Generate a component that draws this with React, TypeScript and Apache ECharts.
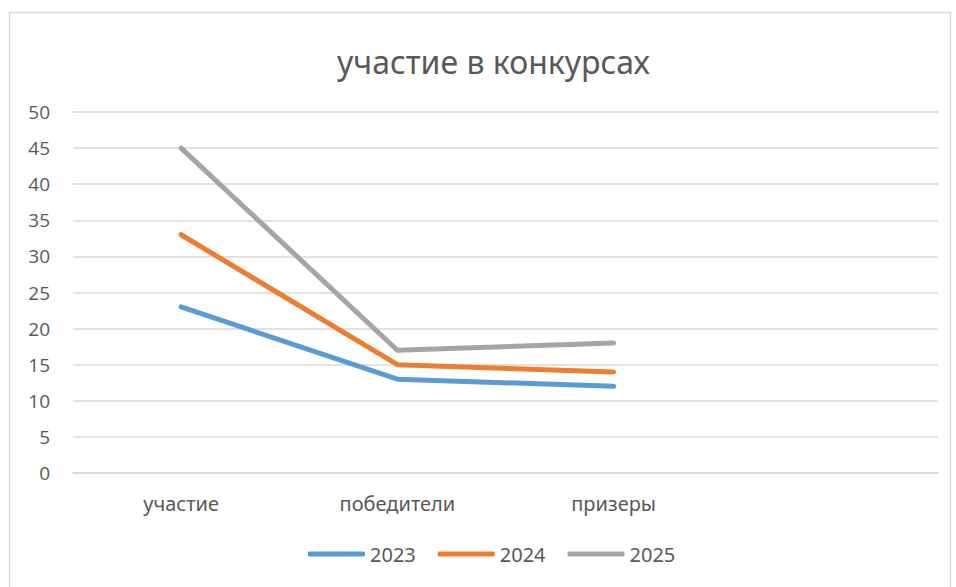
import React, { useEffect, useRef } from "react";
import * as echarts from "echarts";

const categories = ["участие", "победители", "призеры", ""];
const series2023 = [23, 13, 12, null];
const series2024 = [33, 15, 14, null];
const series2025 = [45, 17, 18, null];
const seriesNames = ["2023", "2024", "2025"];
const colors = ["#5B9BD5", "#ED7D31", "#A5A5A5"];

export default function App() {
  const ref = useRef<HTMLDivElement>(null);
  useEffect(() => {
    if (!ref.current) return;
    const chart = echarts.init(ref.current, null, { renderer: "svg" });
    const data = [series2023, series2024, series2025];
    chart.setOption({
      animation: false,
      backgroundColor: "#ffffff",
      color: colors,
      graphic: [
        {
          type: "rect",
          shape: { x: 9.5, y: 12.5, width: 941, height: 600 },
          style: { fill: "none", stroke: "#d9d9d9", lineWidth: 1.5 },
          silent: true,
        },
      ],
      title: {
        text: "участие в конкурсах",
        left: 332,
        top: 40,
        textStyle: {
          fontFamily: "'Noto Sans', 'Open Sans'",
          fontSize: 32,
          fontWeight: "normal",
          color: "#595959",
        },
      },
      legend: {
        bottom: 18,
        left: 303,
        itemWidth: 57,
        itemHeight: 5,
        itemGap: 22,
        icon: "roundRect",
        data: seriesNames,
        textStyle: {
          fontFamily: "'Noto Sans', 'Open Sans'",
          fontSize: 20,
          color: "#595959",
        },
      },
      grid: { left: 73, right: 18, top: 112, bottom: 114, containLabel: false },
      xAxis: {
        type: "category",
        data: categories,
        boundaryGap: true,
        axisLine: { show: true, lineStyle: { color: "#d9d9d9", width: 1.5 } },
        axisTick: { show: false },
        axisLabel: {
          margin: 20,
          fontFamily: "'Noto Sans', 'Open Sans'",
          fontSize: 20,
          color: "#595959",
        },
      },
      yAxis: {
        type: "value",
        min: 0,
        max: 50,
        interval: 5,
        axisLine: { show: false },
        axisTick: { show: false },
        splitLine: { lineStyle: { color: "#d9d9d9", width: 1.5 } },
        axisLabel: {
          margin: 23,
          fontFamily: "'Open Sans', 'Noto Sans'",
          fontSize: 19,
          color: "#595959",
        },
      },
      series: seriesNames.map((name, i) => ({
        name,
        type: "line",
        data: data[i],
        symbol: "none",
        lineStyle: { width: 5, color: colors[i], cap: "round", join: "round" },
        itemStyle: { color: colors[i] },
      })),
    });
    return () => chart.dispose();
  }, []);
  return (
    <div
      ref={ref}
      style={{ position: "absolute", left: 0, top: 0, width: 956, height: 587 }}
    />
  );
}
